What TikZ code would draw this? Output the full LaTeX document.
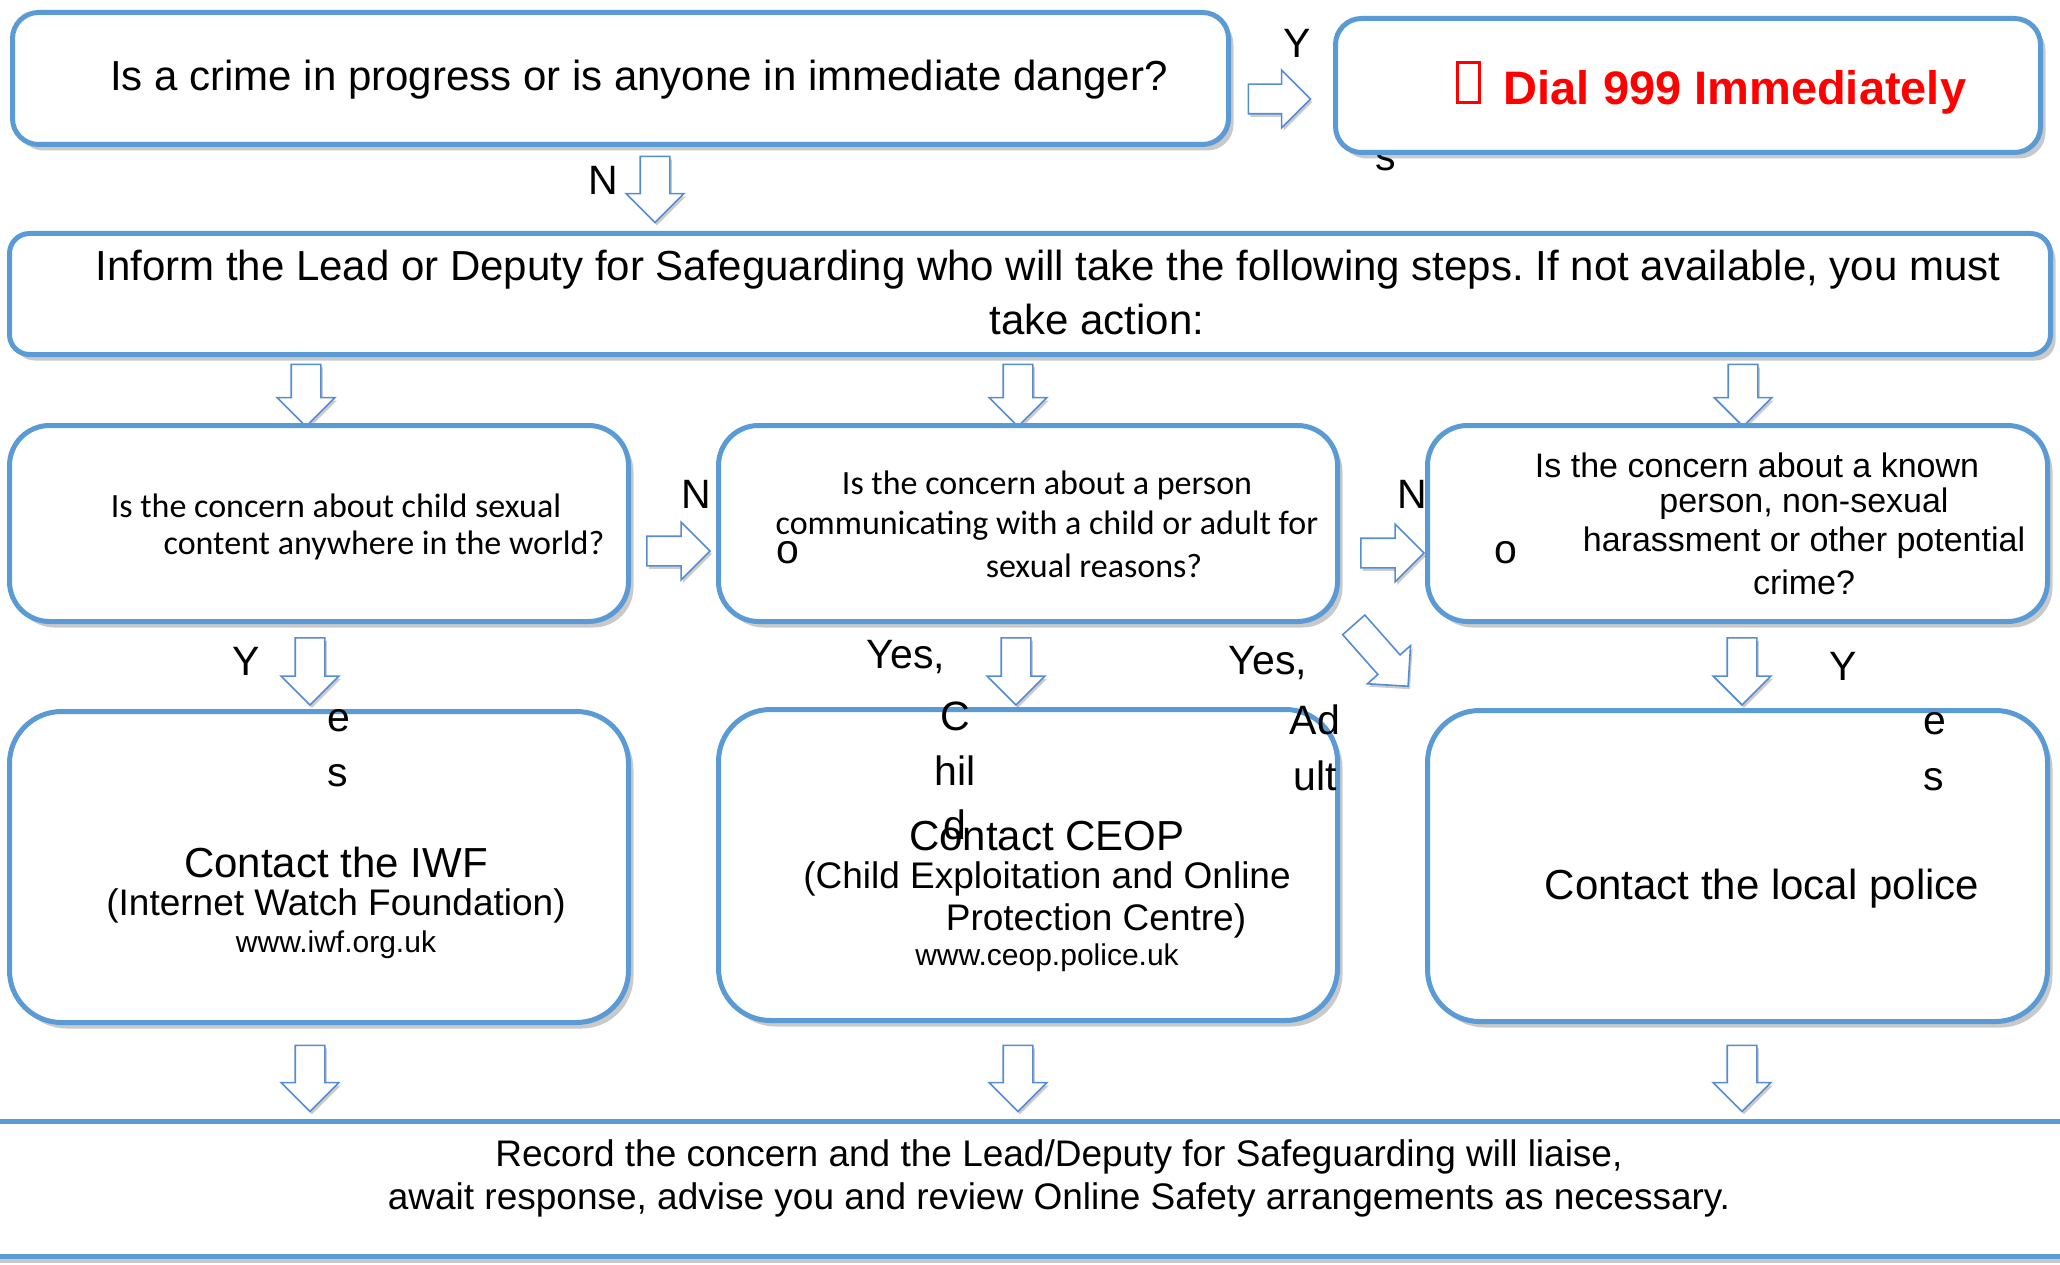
\documentclass[tikz,border=0pt]{standalone}
\usepackage{fontspec}
\setmainfont{Liberation Sans}
\newfontfamily\calib{Carlito}
\usetikzlibrary{shadows,shapes.arrows}
\definecolor{bord}{RGB}{91,155,213}
\definecolor{arr}{RGB}{84,141,212}
\newcommand\fsz[2]{\fontsize{#1}{#2}\selectfont}
\frenchspacing
\begin{document}
\begin{tikzpicture}[x=1pt,y=-1pt,
  qbox/.style={draw=bord, line width=5pt, fill=white, rounded corners=#1, inner sep=0pt,
     drop shadow={shadow xshift=5pt, shadow yshift=-6pt, opacity=0.3, fill=black!70}},
  barrow/.style={single arrow, draw=arr, line width=1.6pt, fill=white, inner sep=14pt,
     minimum height=#1, single arrow head extend=14pt,
     drop shadow={shadow xshift=2pt, shadow yshift=-3pt, opacity=0.2, fill=black}},
  big/.style={font=\fsz{42}{48}, inner sep=0pt},
  inf/.style={font=\fsz{42}{48}, inner sep=0pt},
  mid/.style={font=\fsz{37}{44}, inner sep=0pt},
  sml/.style={font=\fsz{30}{36}, inner sep=0pt},
  cal/.style={font=\calib\fsz{34}{40}, inner sep=0pt},
  qc/.style={font=\fsz{34}{39}, inner sep=0pt},
  rec/.style={font=\fsz{37}{44}, inner sep=0pt},
  lab/.style={font=\fsz{41}{48}, inner sep=0pt},
]
\useasboundingbox (0,0) rectangle (2060,1265);
\clip (0,0) rectangle (2060,1265);

% labels partly hidden behind the Dial box
\node[lab] (ly1) at (1297,43) {Y};
\node[lab] (ls1) at (1386,160) {s};

% top row
\node[qbox=26pt, minimum width=1216pt, minimum height=132pt] (q1) at (620.5,78.5) {};
\node[big] (q1t) at (639,80) {Is a crime in progress or is anyone in immediate danger?};

\node[qbox=26pt, minimum width=705pt, minimum height=134pt] (dial) at (1688,85.5) {};
\node[draw=red, line width=3pt, minimum width=22pt, minimum height=40pt, inner sep=0pt] (tofu) at (1468,83) {};
\node[font=\bfseries\fsz{47}{56}, text=red, inner sep=0pt] (dialt) at (1735,92) {Dial 999 Immediately};

\node[barrow=62pt] (a2) at (1272,99) {};
\node[lab] (ln1) at (603,180) {N};

% inform box
\node[qbox=20pt, minimum width=2041pt, minimum height=121pt] (inform) at (1030,294) {};
\node[inf] (inf1) at (1048,270) {Inform the Lead or Deputy for Safeguarding who will take the following steps. If not available, you must};
\node[inf] (inf2) at (1097,319) {take action:};
\node[barrow=66pt, rotate=-90] (a1) at (655,182) {};

% arrows to row 2
\node[barrow=62pt, rotate=-90] (d1) at (306,388) {};
\node[barrow=62pt, rotate=-90] (d2) at (1018,388) {};
\node[barrow=62pt, rotate=-90] (d3) at (1743,388) {};

% row 2
\node[qbox=40pt, minimum width=619pt, minimum height=196pt] (qa) at (319,523.5) {};
\node[qbox=40pt, minimum width=619pt, minimum height=196pt] (qb) at (1028,523.5) {};
\node[qbox=40pt, minimum width=620pt, minimum height=196pt] (qc) at (1737.5,523.5) {};

\node[cal] (qa1) at (336,506) {Is the concern about child sexual};
\node[cal] (qa2) at (384,545) {content anywhere in the world?};

\node[cal] (qb1) at (1047,485) {Is the concern about a person};
\node[cal] (qb2) at (1047,526) {communicating with a child or adult for};
\node[cal] (qb3) at (1094,566) {sexual reasons?};

\node[qc] (qc1) at (1757,465) {Is the concern about a known};
\node[qc] (qc2) at (1804,504) {person, non-sexual};
\node[qc] (qc3) at (1804,543) {harassment or other potential};
\node[qc] (qc4) at (1804,582) {crime?};

\node[barrow=63pt] (r1) at (671,551) {};
\node[barrow=63pt] (r2) at (1385,553) {};

% row 3
\node[qbox=52pt, minimum width=619pt, minimum height=311pt] (ra) at (319,867) {};
\node[qbox=52pt, minimum width=619pt, minimum height=311pt] (rb) at (1028,865) {};
\node[qbox=52pt, minimum width=620pt, minimum height=311pt] (rc) at (1737.5,866) {};

\node[big] (ra1) at (336,862) {Contact the IWF};
\node[mid] (ra2) at (336,906) {(Internet Watch Foundation)};
\node[sml] (ra3) at (336,945) {www.iwf.org.uk};

\node[big] (rb1) at (1047,836) {Contact CEOP};
\node[mid] (rb2) at (1047,879) {(Child Exploitation and Online};
\node[mid] (rb3) at (1096,921) {Protection Centre)};
\node[sml] (rb4) at (1047,958) {www.ceop.police.uk};

\node[big] (rc1) at (1762,889) {Contact the local police};

\node[barrow=67pt, rotate=-90] (y1) at (310,664) {};
\node[barrow=67pt, rotate=-90] (y2) at (1016,664) {};
\node[barrow=67pt, rotate=-90] (y3) at (1742,664) {};
\node[barrow=82pt, rotate=-48.5] (y4) at (1376,650) {};

% labels
\node[lab] (ln2) at (696,494) {N};
\node[lab] (lo2) at (788,553) {o};
\node[lab] (ln3) at (1412,494) {N};
\node[lab] (lo3) at (1506,553) {o};

\node[lab] (ly4) at (246,661) {Y};
\node[lab] (le4) at (339,721) {e};
\node[lab] (ls4) at (338,776) {s};

\node[lab] (lyes5) at (906,657) {Yes,};
\node[lab] (lc5) at (955,716) {C};
\node[lab] (lh5) at (955,771) {hil};
\node[lab] (ld5) at (955,825) {d};

\node[lab] (lyes6) at (1268,663) {Yes,};
\node[lab] (lad6) at (1315,720) {Ad};
\node[lab] (lul6) at (1315,776) {ult};

\node[lab] (ly7) at (1843,666) {Y};
\node[lab] (le7) at (1935,724) {e};
\node[lab] (ls7) at (1934,780) {s};

% bottom
\node[barrow=66pt, rotate=-90] (b1) at (310,1071) {};
\node[barrow=66pt, rotate=-90] (b2) at (1018,1071) {};
\node[barrow=66pt, rotate=-90] (b3) at (1742,1071) {};

\node[qbox=0pt, minimum width=2100pt, minimum height=135pt] (rec) at (1030,1189) {};
\node[rec] (rec1) at (1059,1157) {Record the concern and the Lead/Deputy for Safeguarding will liaise,};
\node[rec] (rec2) at (1059,1200) {await response, advise you and review Online Safety arrangements as necessary.};
\end{tikzpicture}
\end{document}
